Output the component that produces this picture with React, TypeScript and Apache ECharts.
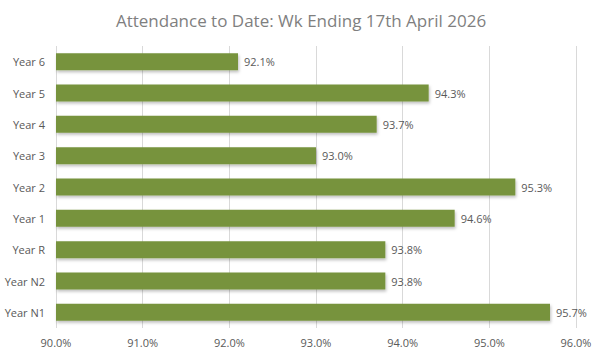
import React, { useEffect, useRef } from "react";
import * as echarts from "echarts";

const categories = ["Year N1", "Year N2", "Year R", "Year 1", "Year 2", "Year 3", "Year 4", "Year 5", "Year 6"];
const values = [95.7, 93.8, 93.8, 94.6, 95.3, 93.0, 93.7, 94.3, 92.1];
const titleText = "Attendance to Date: Wk Ending 17th April 2026";

export default function App() {
  const ref = useRef<HTMLDivElement>(null);
  useEffect(() => {
    const chart = echarts.init(ref.current!, null, { renderer: "svg" });
    chart.setOption({
      animation: false,
      backgroundColor: "#ffffff",
      title: {
        text: titleText,
        left: "center",
        top: 7,
        textStyle: { fontFamily: "Open Sans", fontSize: 17, fontWeight: "normal", color: "#7f7f7f" },
      },
      grid: { left: 56, right: 26, top: 46, bottom: 28 },
      xAxis: {
        type: "value",
        min: 90,
        max: 96,
        interval: 1,
        axisLine: { show: false },
        axisTick: { show: false },
        splitLine: { lineStyle: { color: "#d9d9d9", width: 1 } },
        axisLabel: {
          formatter: (v: number) => v.toFixed(1) + "%",
          color: "#595959",
          fontFamily: "Open Sans",
          fontSize: 11,
          margin: 9,
        },
      },
      yAxis: {
        type: "category",
        data: categories,
        axisLine: { show: false },
        axisTick: { show: false },
        axisLabel: { color: "#595959", fontFamily: "Open Sans", fontSize: 11, margin: 11 },
      },
      series: [
        {
          type: "bar",
          data: values,
          barWidth: 17,
          itemStyle: {
            color: "#77933c",
            shadowColor: "rgba(0,0,0,0.25)",
            shadowBlur: 3,
            shadowOffsetY: 2,
            shadowOffsetX: 1,
          },
          label: {
            show: true,
            position: "right",
            distance: 6,
            formatter: (p: any) => p.value.toFixed(1) + "%",
            color: "#595959",
            fontFamily: "Open Sans",
            fontSize: 11,
          },
        },
      ],
    });
    return () => chart.dispose();
  }, []);
  return <div ref={ref} style={{ width: 602, height: 356, position: "absolute", left: 0, top: 0 }} />;
}
